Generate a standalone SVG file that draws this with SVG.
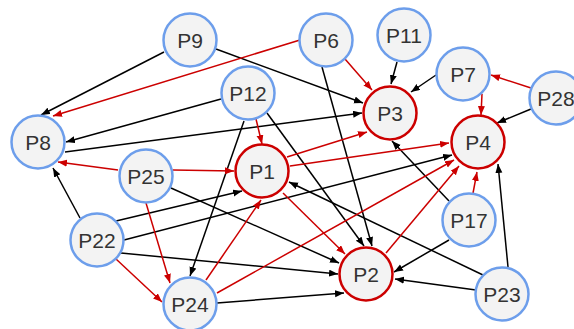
<svg xmlns="http://www.w3.org/2000/svg" width="574" height="329" viewBox="0 0 574 329">
<defs>
<marker id="ab" markerUnits="userSpaceOnUse" markerWidth="10" markerHeight="8" refX="9" refY="3.5" orient="auto"><path d="M0,0 L9,3.5 L0,7 z" fill="#000"/></marker>
<marker id="ar" markerUnits="userSpaceOnUse" markerWidth="10" markerHeight="8" refX="9" refY="3.5" orient="auto"><path d="M0,0 L9,3.5 L0,7 z" fill="#cc0000"/></marker>
<style>
.b{stroke:#000;stroke-width:1.5;fill:none;marker-end:url(#ab)}
.r{stroke:#cc0000;stroke-width:1.5;fill:none;marker-end:url(#ar)}
.nb{fill:#f3f3f3;stroke:#6d9eeb;stroke-width:2.5}
.nr{fill:#f3f3f3;stroke:#cc0000;stroke-width:2.5}
text{font-family:"Liberation Sans",Arial,sans-serif;font-size:21px;fill:#333;text-anchor:middle}
</style>
</defs>
<rect width="574" height="329" fill="#fff"/>
<g id="connectors">
<line class="b" x1="164" y1="52" x2="41" y2="115"/>
<line class="b" x1="216" y1="49" x2="363" y2="103"/>
<line class="b" x1="322" y1="67" x2="372" y2="246"/>
<line class="b" x1="397" y1="62" x2="391" y2="84"/>
<line class="b" x1="436" y1="75" x2="411" y2="92"/>
<line class="b" x1="531" y1="109" x2="497" y2="123"/>
<line class="b" x1="221" y1="99" x2="66" y2="142"/>
<line class="b" x1="244" y1="121" x2="190" y2="276"/>
<line class="b" x1="267" y1="113" x2="364" y2="246"/>
<line class="b" x1="65" y1="152" x2="362" y2="113"/>
<line class="b" x1="171" y1="188" x2="339" y2="263"/>
<line class="b" x1="80" y1="218" x2="53" y2="168"/>
<line class="b" x1="116" y1="221" x2="242" y2="191"/>
<line class="b" x1="124" y1="240" x2="452" y2="155"/>
<line class="b" x1="121" y1="253" x2="338" y2="274"/>
<line class="b" x1="217" y1="303" x2="344" y2="293"/>
<line class="b" x1="449" y1="201" x2="392" y2="141"/>
<line class="b" x1="449" y1="240" x2="394" y2="272"/>
<line class="b" x1="483" y1="275" x2="289" y2="182"/>
<line class="b" x1="476" y1="290" x2="395" y2="279"/>
<line class="b" x1="508" y1="267" x2="498" y2="164"/>
<line class="r" x1="300" y1="40" x2="53" y2="116"/>
<line class="r" x1="345" y1="59" x2="372" y2="90"/>
<line class="r" x1="482" y1="94" x2="481" y2="115"/>
<line class="r" x1="531" y1="88" x2="491" y2="75"/>
<line class="r" x1="256" y1="119" x2="262" y2="144"/>
<line class="r" x1="118" y1="170" x2="58" y2="162"/>
<line class="r" x1="173" y1="170" x2="234" y2="171"/>
<line class="r" x1="146" y1="203" x2="170" y2="283"/>
<line class="r" x1="116" y1="259" x2="162" y2="302"/>
<line class="r" x1="206" y1="280" x2="261" y2="200"/>
<line class="r" x1="217" y1="293" x2="454" y2="160"/>
<line class="r" x1="287" y1="157" x2="367" y2="132"/>
<line class="r" x1="290" y1="166" x2="449" y2="143"/>
<line class="r" x1="283" y1="193" x2="345" y2="254"/>
<line class="r" x1="386" y1="253" x2="459" y2="166"/>
<line class="r" x1="473" y1="193" x2="477" y2="172"/>
</g>
<g id="P9"><circle class="nb" cx="190" cy="40" r="26.5"/><text x="190" y="47.5">P9</text></g>
<g id="P6"><circle class="nb" cx="326" cy="40" r="26.5"/><text x="326" y="47.5">P6</text></g>
<g id="P11"><circle class="nb" cx="404" cy="35" r="26.5"/><text x="404" y="42.5">P11</text></g>
<g id="P7"><circle class="nb" cx="463" cy="74" r="26.5"/><text x="463" y="81.5">P7</text></g>
<g id="P28"><circle class="nb" cx="556" cy="98" r="26.5"/><text x="556" y="105.5">P28</text></g>
<g id="P12"><circle class="nb" cx="248" cy="93" r="26.5"/><text x="248" y="100.5">P12</text></g>
<g id="P8"><circle class="nb" cx="38" cy="142" r="26.5"/><text x="38" y="149.5">P8</text></g>
<g id="P3"><circle class="nr" cx="390" cy="113" r="26.5"/><text x="390" y="120.5">P3</text></g>
<g id="P4"><circle class="nr" cx="478" cy="142" r="26.5"/><text x="478" y="149.5">P4</text></g>
<g id="P1"><circle class="nr" cx="262" cy="171" r="26.5"/><text x="262" y="178.5">P1</text></g>
<g id="P25"><circle class="nb" cx="146" cy="176" r="26.5"/><text x="146" y="183.5">P25</text></g>
<g id="P22"><circle class="nb" cx="97" cy="240" r="26.5"/><text x="97" y="247.5">P22</text></g>
<g id="P17"><circle class="nb" cx="469" cy="220" r="26.5"/><text x="469" y="227.5">P17</text></g>
<g id="P24"><circle class="nb" cx="190" cy="304" r="26.5"/><text x="190" y="311.5">P24</text></g>
<g id="P2"><circle class="nr" cx="366" cy="274" r="26.5"/><text x="366" y="281.5">P2</text></g>
<g id="P23"><circle class="nb" cx="502" cy="294" r="26.5"/><text x="502" y="301.5">P23</text></g>
</svg>
